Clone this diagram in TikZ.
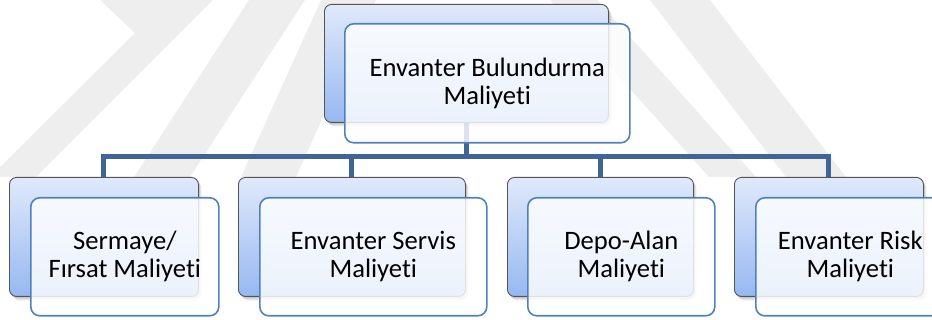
\documentclass[tikz,border=0pt]{standalone}
\usepackage{fontspec}
\setmainfont{Carlito}[Ligatures={NoCommon}]
\usetikzlibrary{shadows}

\pgfdeclarelayer{watermark}
\pgfdeclarelayer{links}
\pgfsetlayers{watermark,links,main}

\definecolor{linkblue}{RGB}{63,101,151}
\definecolor{frameblue}{RGB}{79,129,189}
\definecolor{backtop}{RGB}{224,233,251}
\definecolor{backbottom}{RGB}{150,184,241}
\definecolor{backline}{RGB}{85,85,85}
\definecolor{wmgray}{RGB}{238,238,238}

\begin{document}
\begin{tikzpicture}[x=1pt,y=-1pt,
  backbox/.style={rectangle, rounded corners=7pt, draw=backline, line width=0.9pt,
    top color=backtop, bottom color=backbottom, anchor=north west, inner sep=0pt,
    general shadow={fill=black, opacity=0.10, shadow xshift=3pt, shadow yshift=-4pt},
    general shadow={fill=black, opacity=0.14, shadow xshift=1.5pt, shadow yshift=-2pt}},
  frontbox/.style={rectangle, rounded corners=9pt, draw=frameblue, line width=1.6pt,
    fill=white, fill opacity=0.82, draw opacity=1, text opacity=1, text=black,
    anchor=north west, inner sep=0pt, align=center,
    font=\fontsize{26.6}{28}\selectfont},
  link/.style={draw=linkblue, line width=5pt, line join=miter}]

\useasboundingbox (0,0) rectangle (932,320);

% faint diagonal bands in the background
\begin{pgfonlayer}{watermark}
  \fill[wmgray] (100,0) -- (213,0) -- (36,177) -- (-10,177) -- (135,33) -- cycle;
  \fill[wmgray] (249,0) -- (305,0) -- (190,177) -- (134,177) -- cycle;
  \fill[wmgray] (321,0) -- (376,0) -- (296,177) -- (241,177) -- cycle;
  \fill[wmgray] (550,0) -- (597,0) -- (756,177) -- (709,177) -- cycle;
  \fill[wmgray] (650,0) -- (710,0) -- (846,177) -- (786,177) -- cycle;
\end{pgfonlayer}

% root
\node[backbox, minimum width=284pt, minimum height=118pt] (tb) at (324,4) {};
\node[frontbox, minimum width=285pt, minimum height=119pt] (tf) at (344,23) {Envanter Bulundurma\\Maliyeti};

% children
\node[backbox, minimum width=189pt, minimum height=119pt] (b1) at (9,177) {};
\node[frontbox, minimum width=188pt, minimum height=118pt] (f1) at (30,197) {Sermaye/\\Fırsat Maliyeti};

\node[backbox, minimum width=227pt, minimum height=119pt] (b2) at (238,177) {};
\node[frontbox, minimum width=227pt, minimum height=118pt] (f2) at (259,197) {Envanter Servis\\Maliyeti};

\node[backbox, minimum width=186pt, minimum height=119pt] (b3) at (507,177) {};
\node[frontbox, minimum width=187pt, minimum height=118pt] (f3) at (527,197) {Depo-Alan\\Maliyeti};

\node[backbox, minimum width=189pt, minimum height=119pt] (b4) at (734,177) {};
\node[frontbox, minimum width=189pt, minimum height=118pt] (f4) at (755,197) {Envanter Risk\\Maliyeti};

% tree connectors
\coordinate (hub) at (466,157);
\begin{pgfonlayer}{links}
  \draw[link] (tb.south) -- (tb.south |- hub);
  \draw[link] (b1.north) -- (b1.north |- hub) -- (b4.north |- hub) -- (b4.north);
  \draw[link] (b2.north) -- (b2.north |- hub);
  \draw[link] (b3.north) -- (b3.north |- hub);
\end{pgfonlayer}
\end{tikzpicture}
\end{document}
